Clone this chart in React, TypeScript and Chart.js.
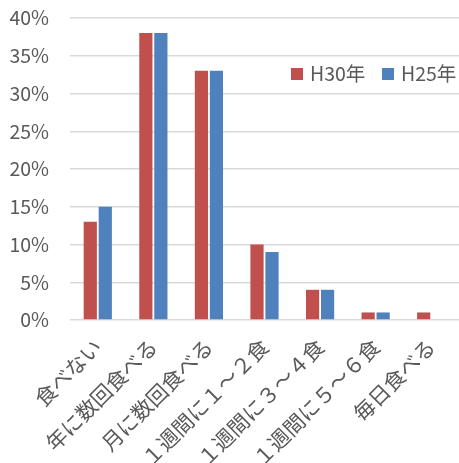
import React, { useEffect, useRef } from "react";
import { Chart, registerables } from "chart.js";

Chart.register(...registerables);

const categories = [
  "食べない",
  "年に数回食べる",
  "月に数回食べる",
  "１週間に１～２食",
  "１週間に３～４食",
  "１週間に５～６食",
  "毎日食べる",
];
const seriesNames = ["H30年", "H25年"];
const h30Values = [13, 38, 33, 10, 4, 1, 1];
const h25Values = [15, 38, 33, 9, 4, 1, 0];
const yTicks = [0, 5, 10, 15, 20, 25, 30, 35, 40];

const RED = "#C0504D";
const BLUE = "#4F81BD";
const TEXT = "#595959";
const FONT = "'Noto Sans CJK JP', 'Noto Sans', sans-serif";

const legendPlugin = {
  id: "insideLegend",
  afterDraw(chart: any) {
    const ctx = chart.ctx;
    const items = [
      { label: seriesNames[0], color: RED, x: 291 },
      { label: seriesNames[1], color: BLUE, x: 382 },
    ];
    ctx.save();
    ctx.font = `19.5px ${FONT}`;
    ctx.textBaseline = "middle";
    ctx.textAlign = "left";
    for (const it of items) {
      ctx.fillStyle = it.color;
      ctx.fillRect(it.x, 68, 12, 12);
      ctx.fillStyle = TEXT;
      ctx.fillText(it.label, it.x + 19, 74);
    }
    ctx.restore();
  },
};

export default function App() {
  const ref = useRef<HTMLCanvasElement>(null);
  useEffect(() => {
    document.body.style.margin = "0";
    const chart = new Chart(ref.current!, {
      type: "bar",
      data: {
        labels: categories,
        datasets: [
          { label: seriesNames[0], data: h30Values, backgroundColor: RED, borderWidth: 0 },
          { label: seriesNames[1], data: h25Values, backgroundColor: BLUE, borderWidth: 0 },
        ],
      },
      options: {
        animation: false,
        responsive: false,
        maintainAspectRatio: false,
        layout: { padding: { top: 18, left: 0, right: 0, bottom: 0 } },
        datasets: { bar: { categoryPercentage: 0.54, barPercentage: 0.88 } } as any,
        plugins: { legend: { display: false }, tooltip: { enabled: false } },
        scales: {
          x: {
            grid: { display: false },
            border: { display: false },
            ticks: {
              color: TEXT,
              font: { family: FONT, size: 21 },
              maxRotation: 45,
              minRotation: 45,
              padding: 6,
              autoSkip: false,
            },
            afterFit(scale: any) {
              scale.height = 143;
              scale.paddingTop = 0;
              scale.paddingLeft = 0;
              scale.paddingRight = 0;
            },
          },
          y: {
            min: 0,
            max: 40,
            afterBuildTicks(scale: any) {
              scale.ticks = yTicks.map((v) => ({ value: v }));
            },
            grid: { color: "#D9D9D9", lineWidth: 1.5, drawTicks: false },
            border: { display: false },
            ticks: {
              color: TEXT,
              font: { family: FONT, size: 19.5 },
              padding: 21,
              callback: (v: any) => `${v}%`,
            },
            afterFit(scale: any) {
              scale.width = 70;
              scale.paddingTop = 0;
              scale.paddingBottom = 0;
            },
          },
        },
      },
      plugins: [legendPlugin],
    });
    return () => chart.destroy();
  }, []);
  return <canvas ref={ref} width={459} height={463} style={{ display: "block" }} />;
}
